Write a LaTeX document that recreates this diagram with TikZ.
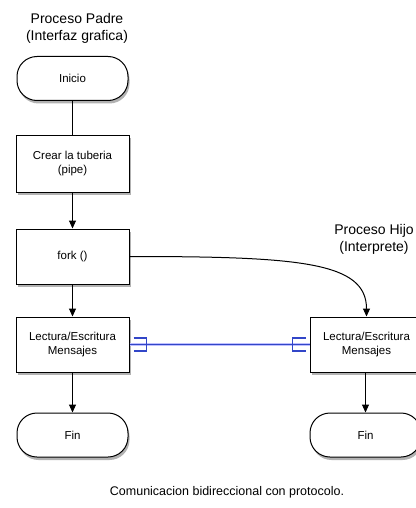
\documentclass[tikz,border=0pt]{standalone}
\usepackage{fontspec}
\setmainfont{Liberation Sans}
\usetikzlibrary{shadows,arrows.meta,calc}
\begin{document}
\begin{tikzpicture}[x=1pt,y=-1pt,
  boxshadow/.style={drop shadow={shadow xshift=1.5pt,shadow yshift=-3pt,opacity=0.3,fill=black}},
  procbox/.style={draw=black,line width=1pt,fill=white,minimum width=113pt,minimum height=55pt,inner sep=1pt,align=center,font=\fontsize{11.5}{14}\selectfont,boxshadow},
  termbox/.style={draw=black,line width=1pt,fill=white,minimum width=111pt,minimum height=44pt,rounded corners=20pt,align=center,font=\fontsize{11.5}{14}\selectfont,boxshadow},
  titletext/.style={align=center,font=\fontsize{14}{17}\selectfont,inner sep=0pt},
  flow/.style={line width=1pt,-{Triangle[length=8pt,width=7pt]}},
  link/.style={line width=1pt},
  pipehalo/.style={draw=blue!25,line width=3.4pt},
  pipe/.style={draw={rgb,255:red,50;green,70;blue,200},line width=1.8pt}
]
\useasboundingbox (0,0) rectangle (415,508);
\fill[white] (0,0) rectangle (415,508);

\node[titletext] (tL) at (77,28) {Proceso Padre\\(Interfaz grafica)};
\node[titletext] (tR) at (374,239) {Proceso Hijo\\(Interprete)};

\node[termbox] (ini) at (72.5,78.5) {Inicio};
\node[procbox,minimum height=57pt] (crear) at (72.5,163.5) {Crear la tuberia\\(pipe)};
\node[procbox] (fork) at (72.5,256.5) {fork ()};
\node[procbox] (lectL) at (72.5,344.5) {Lectura/Escritura\\Mensajes};
\node[termbox] (finL) at (72.5,435) {Fin};

\node[procbox] (lectR) at (366.5,344.5) {Lectura/Escritura\\Mensajes};
\node[termbox] (finR) at (365.5,435) {Fin};

\node[font=\fontsize{12.5}{15}\selectfont,inner sep=0pt] (cap) at (227,492) {Comunicacion bidireccional con protocolo.};

\draw[link] (ini) -- (crear);
\draw[flow] (crear) -- (fork);
\draw[flow] (fork) -- (lectL);
\draw[flow] (lectL) -- (finL);
\draw[flow] (lectR.south -| finR.north) -- (finR);
\draw[flow] (fork.east) .. controls (300,256.5) and (366.5,262) .. (lectR.north);

\draw[pipehalo] (lectL.east) -- (lectR.west);
\draw[pipe] (lectL.east) -- (lectR.west);
\draw[pipe] ($(lectL.east)+(4,-6.5)$) -- ++(13,0) -- ++(0,13) -- ++(-13,0);
\draw[pipe] ($(lectR.west)+(-4,-6.5)$) -- ++(-13,0) -- ++(0,13) -- ++(13,0);
\end{tikzpicture}
\end{document}
